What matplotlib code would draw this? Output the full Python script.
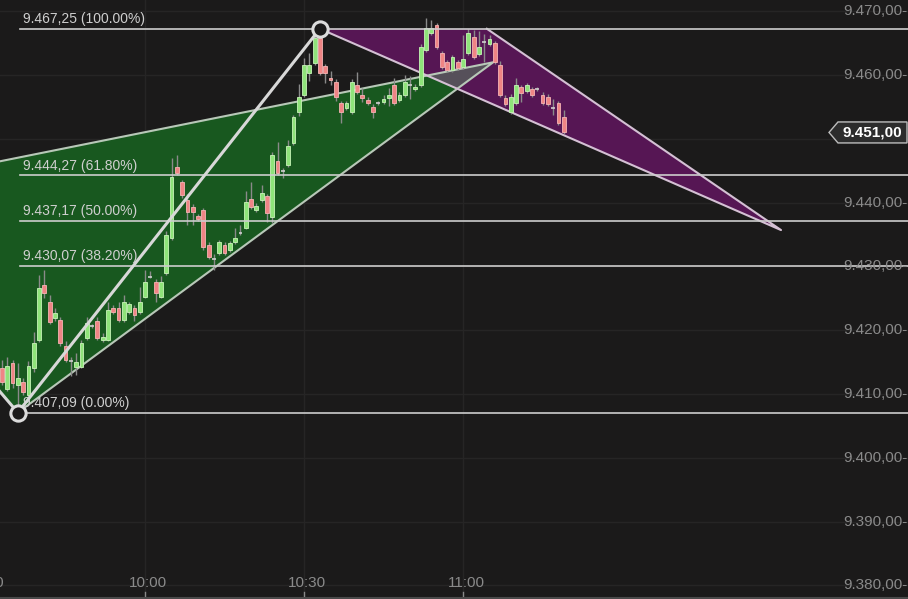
import numpy as np
import matplotlib.pyplot as plt
from matplotlib.patches import Polygon
from matplotlib.transforms import blended_transform_factory, IdentityTransform

plt.rcParams['font.family'] = ['Liberation Sans', 'DejaVu Sans']

# 1-minute candles, first one at 9:33 (minutes counted from 9:00)
start_minute = 33
opens = [9414.1, 9410.8, 9414.9, 9411.4, 9411.9, 9409.8, 9414.1, 9418.5, 9427.1, 9424.4,
         9421.9, 9421.6, 9417.5, 9415.1, 9414.2, 9414.2, 9418.8, 9420.6, 9421.4, 9418.5,
         9418.5, 9423.5, 9423.5, 9421.6, 9422.9, 9423.5, 9422.9, 9425.2, 9428.4, 9427.6,
         9425.2, 9429.0, 9434.5, 9445.6, 9443.2, 9440.4, 9439.3, 9437.9, 9438.8, 9433.4,
         9431.1, 9432.1, 9433.4, 9432.6, 9433.8, 9435.3, 9436.0, 9440.6, 9438.8, 9440.4,
         9441.0, 9437.7, 9446.5, 9445.0, 9445.9, 9449.3, 9454.2, 9456.9, 9460.3, 9461.9,
         9465.8, 9461.4, 9459.5, 9458.9, 9455.6, 9454.8, 9454.2, 9458.4, 9456.9, 9456.1,
         9455.0, 9455.6, 9455.8, 9456.4, 9458.4, 9456.1, 9456.9, 9458.4, 9457.8, 9458.4,
         9463.9, 9466.6, 9467.8, 9463.4, 9462.0, 9460.8, 9462.0, 9461.3, 9463.4, 9466.0,
         9463.3, 9465.2, 9464.9, 9465.0, 9461.6, 9456.4, 9454.2, 9455.6, 9458.1, 9457.5,
         9457.8, 9457.8, 9456.9, 9456.6, 9454.8, 9455.6, 9453.4]
highs = [9415.3, 9415.8, 9415.3, 9414.8, 9412.5, 9415.2, 9419.7, 9428.7, 9429.4, 9425.5,
         9423.5, 9422.0, 9418.3, 9415.8, 9416.5, 9418.5, 9422.0, 9421.0, 9422.0, 9419.5,
         9424.5, 9424.0, 9424.4, 9425.5, 9424.5, 9423.9, 9426.8, 9429.4, 9429.3, 9428.0,
         9428.5, 9435.5, 9447.0, 9447.5, 9443.6, 9441.3, 9439.8, 9438.2, 9439.2, 9433.8,
         9432.0, 9434.2, 9433.8, 9434.0, 9436.0, 9436.5, 9441.8, 9443.3, 9439.9, 9442.8,
         9441.4, 9447.9, 9449.5, 9445.4, 9449.8, 9453.8, 9458.6, 9462.7, 9463.5, 9466.5,
         9467.25, 9461.8, 9460.7, 9459.3, 9456.0, 9456.0, 9459.3, 9460.5, 9458.0, 9456.5,
         9455.4, 9456.0, 9456.9, 9457.9, 9459.5, 9457.3, 9460.0, 9459.9, 9458.6, 9464.8,
         9468.9, 9468.6, 9468.2, 9463.8, 9462.4, 9463.2, 9462.4, 9466.2, 9467.2, 9467.0,
         9466.9, 9466.5, 9466.2, 9465.4, 9462.2, 9456.8, 9457.0, 9459.6, 9458.5, 9458.8,
         9458.2, 9458.2, 9457.3, 9457.0, 9456.2, 9456.0, 9454.5]
lows = [9411.4, 9410.5, 9410.9, 9407.09, 9409.8, 9409.5, 9413.5, 9418.2, 9425.0, 9421.0,
        9421.5, 9417.6, 9415.0, 9412.9, 9413.0, 9414.0, 9418.5, 9420.3, 9418.5, 9418.2,
        9418.3, 9422.5, 9421.3, 9421.3, 9422.6, 9421.5, 9422.6, 9425.0, 9428.2, 9424.5,
        9425.0, 9428.7, 9434.2, 9444.3, 9440.8, 9436.5, 9436.5, 9437.1, 9432.6, 9431.2,
        9429.5, 9431.8, 9431.8, 9432.3, 9433.5, 9435.0, 9435.8, 9439.0, 9438.5, 9440.1,
        9437.0, 9436.8, 9444.3, 9443.8, 9445.6, 9449.0, 9453.6, 9456.6, 9459.0, 9461.5,
        9460.0, 9458.8, 9458.4, 9456.0, 9452.5, 9454.5, 9453.9, 9457.0, 9455.8, 9455.3,
        9453.3, 9455.3, 9455.5, 9455.2, 9455.3, 9455.8, 9456.6, 9456.2, 9457.5, 9458.1,
        9463.6, 9466.3, 9464.1, 9461.0, 9460.5, 9460.5, 9460.8, 9461.0, 9463.1, 9462.5,
        9463.0, 9462.0, 9464.6, 9461.7, 9456.6, 9455.2, 9453.9, 9455.3, 9455.8, 9457.2,
        9456.6, 9457.5, 9455.3, 9455.2, 9453.8, 9452.2, 9450.7]
closes = [9411.9, 9414.4, 9411.7, 9412.5, 9410.3, 9414.4, 9418.0, 9426.6, 9425.8, 9421.3,
          9422.7, 9418.0, 9415.3, 9415.0, 9415.0, 9418.0, 9421.1, 9420.5, 9418.8, 9419.0,
          9423.2, 9422.9, 9421.6, 9424.4, 9424.1, 9422.4, 9424.4, 9427.6, 9428.5, 9425.8,
          9427.6, 9434.9, 9444.0, 9444.6, 9441.2, 9438.5, 9438.5, 9437.4, 9433.0, 9431.5,
          9431.0, 9433.8, 9432.1, 9433.6, 9434.5, 9435.4, 9440.1, 9439.3, 9439.5, 9441.5,
          9438.4, 9447.5, 9444.6, 9445.0, 9448.9, 9453.4, 9456.6, 9461.6, 9461.6, 9465.8,
          9460.3, 9460.3, 9459.2, 9456.6, 9454.2, 9455.6, 9458.9, 9457.3, 9456.4, 9455.6,
          9454.2, 9455.6, 9456.2, 9456.9, 9455.6, 9456.9, 9458.9, 9458.4, 9458.2, 9464.4,
          9467.3, 9467.4, 9464.4, 9461.3, 9460.8, 9462.8, 9461.1, 9462.5, 9466.6, 9462.8,
          9464.4, 9465.2, 9465.6, 9462.0, 9456.9, 9455.5, 9456.6, 9458.4, 9457.2, 9458.4,
          9456.9, 9457.8, 9455.6, 9455.5, 9454.8, 9452.5, 9451.0]

# pattern points X, A, B, C, D  (minute, price)
pattern_t = [1.0, 36.0, 93.0, 124.5, 180.0]
pattern_p = [9441.2, 9407.09, 9467.25, 9467.25, 9435.7]
# end of the green wedge
wedge_t = 125.7
wedge_p = 9462.0

fib_ratios = [1.0, 0.618, 0.5, 0.382, 0.0]
price_ticks = [9380, 9390, 9400, 9410, 9420, 9430, 9440, 9450, 9460, 9470]
time_ticks = [30, 60, 90, 120]
time_labels = ['9:30', '10:00', '10:30', '11:00']

BG = '#1b1a1a'


def fmt(v):
    s = f"{v:,.2f}"
    return s.replace(',', 'X').replace('.', ',').replace('X', '.')


def intersect(p1, p2, p3, p4):
    (x1, y1), (x2, y2), (x3, y3), (x4, y4) = p1, p2, p3, p4
    d = (x1 - x2) * (y3 - y4) - (y1 - y2) * (x3 - x4)
    a = x1 * y2 - y1 * x2
    b = x3 * y4 - y3 * x4
    return ((a * (x3 - x4) - (x1 - x2) * b) / d, (a * (y3 - y4) - (y1 - y2) * b) / d)


fig = plt.figure(figsize=(9.08, 5.99), dpi=100, facecolor=BG)
ax = fig.add_axes([0, 0, 1, 1])
ax.set_facecolor(BG)
ax.set_xlim(32.64, 203.96)
ax.set_ylim(9377.87, 9471.76)
ax.axis('off')

yaxis_tr = blended_transform_factory(ax.transAxes, ax.transData)
xaxis_tr = blended_transform_factory(ax.transData, ax.transAxes)

# grid
for v in price_ticks:
    ax.axhline(v, color='#262525', lw=1, zorder=0)
for t in time_ticks:
    ax.axvline(t, color='#262525', lw=1, zorder=0)

X, A, B, C, D = list(zip(pattern_t, pattern_p))
W = (wedge_t, wedge_p)

# filled triangles
ax.add_patch(Polygon([X, A, W], closed=True, facecolor='#18581f', edgecolor='none', zorder=1))
ax.add_patch(Polygon([B, C, D], closed=True, facecolor='#561654', edgecolor='none', zorder=1))
g1 = intersect(X, W, B, D)
g2 = intersect(A, W, B, D)
ax.add_patch(Polygon([g1, W, g2], closed=True, facecolor='#56505a', edgecolor='none', zorder=1))

# triangle edges
ax.plot([X[0], W[0], A[0]], [X[1], W[1], A[1]], color='#b8c8b8', lw=1.5, zorder=2)
ax.plot([B[0], D[0], C[0]], [B[1], D[1], C[1]], color='#d4c0d4', lw=1.5, zorder=2)

# candles
times = np.arange(len(opens)) + start_minute
for t, o, h, l, c in zip(times, opens, highs, lows, closes):
    up = c >= o
    ax.vlines(t, l, h, color='#8a8a8a', lw=1, zorder=3)
    if abs(c - o) < 0.15:
        ax.hlines(o, t - 0.35, t + 0.35, color='#d0d0d0', lw=1.2, zorder=4)
        continue
    face = '#8fe37a' if up else '#ef8585'
    edge = '#c8f5b8' if up else '#f6b4b4'
    ax.bar(t, abs(c - o), bottom=min(o, c), width=0.72, color=face,
           edgecolor=edge, linewidth=0.6, zorder=4)

# fibonacci levels
low, high = A[1], B[1]
for r in fib_ratios:
    lvl = low + r * (high - low)
    ax.plot([A[0] + 0.4, 210], [lvl, lvl], color='#cdcdcd', lw=1.2, zorder=5)
    ax.annotate(f"{fmt(lvl)} ({r * 100:.2f}%)", (A[0], lvl), xytext=(4, 2),
                textcoords='offset points', color='#cfcfcf', fontsize=10,
                ha='left', va='bottom', zorder=6)

# zigzag X-A-B with pivot circles
ax.plot([X[0], A[0], B[0]], [X[1], A[1], B[1]], color='#d8d8d8', lw=2.2, zorder=6)
ax.plot([A[0], B[0]], [A[1], B[1]], 'o', ms=11, mfc=BG, mec='#dcdcdc', mew=2.2, zorder=7)

# right price scale (the label under the last price tag is hidden)
for v in price_ticks:
    if abs(v - closes[-1]) < 2.5:
        continue
    ax.text(0.999, v, fmt(v) + '-', transform=yaxis_tr, ha='right', va='center',
            color='#8a8a8a', fontsize=11, zorder=8)

# time scale
for t, lab in zip(time_ticks, time_labels):
    ax.text(t + 0.6, 0.026, lab, transform=xaxis_tr, ha='center', va='center',
            color='#8a8a8a', fontsize=11, zorder=8)
    ax.plot([t, t], [0, 0.012], transform=xaxis_tr, color='#8a8a8a', lw=1, zorder=8)
ax.plot([0, 1], [0.002, 0.002], transform=ax.transAxes, color='#4a4a4a', lw=1.5, zorder=8)

# last price tag
_, ypx = ax.transData.transform((0, closes[-1]))
tip = 829
tag = [(tip, ypx), (tip + 9, ypx + 10.5), (907, ypx + 10.5), (907, ypx - 10.5), (tip + 9, ypx - 10.5)]
ax.add_patch(Polygon(tag, closed=True, transform=IdentityTransform(), facecolor='#2c2c2c',
                     edgecolor='#bdbdbd', lw=1, zorder=9))
ax.text(872, ypx, fmt(closes[-1]), transform=IdentityTransform(), ha='center', va='center',
        color='white', fontsize=11, fontweight='bold', zorder=10)

fig.savefig('out.png', dpi=100, facecolor=BG)
